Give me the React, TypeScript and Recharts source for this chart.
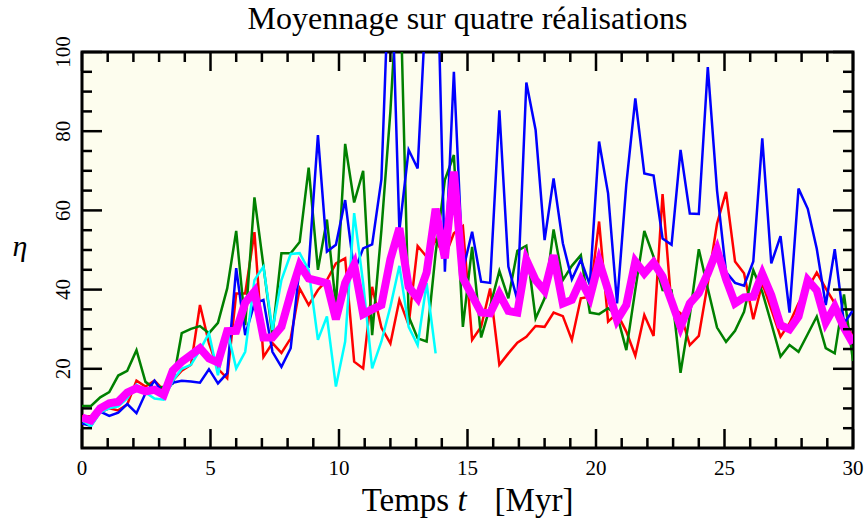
import React from "react";
import {
  LineChart,
  Line,
  XAxis,
  YAxis,
  CartesianGrid,
  ReferenceArea,
} from "recharts";

// time grid (Myr)
const times = [
  0, 0.35, 0.71, 1.06, 1.41, 1.76, 2.12, 2.47, 2.82, 3.18,
  3.53, 3.88, 4.24, 4.59, 4.94, 5.29, 5.65, 6, 6.35, 6.71,
  7.06, 7.41, 7.76, 8.12, 8.47, 8.82, 9.18, 9.53, 9.88, 10.24,
  10.59, 10.94, 11.29, 11.65, 12, 12.35, 12.71, 13.06, 13.41, 13.76,
  14.12, 14.47, 14.82, 15.18, 15.53, 15.88, 16.24, 16.59, 16.94, 17.29,
  17.65, 18, 18.35, 18.71, 19.06, 19.41, 19.76, 20.12, 20.47, 20.82,
  21.18, 21.53, 21.88, 22.24, 22.59, 22.94, 23.29, 23.65, 24, 24.35,
  24.71, 25.06, 25.41, 25.76, 26.12, 26.47, 26.82, 27.18, 27.53, 27.88,
  28.24, 28.59, 28.94, 29.29, 29.65, 30,
];

const red = [
  8, 8, 9, 10, 9.5, 11, 17, 15.5, 17, 14.6,
  17, 19.5, 21, 36.1, 26.5, 20, 17.6, 39, 39, 54.5,
  23, 26.5, 24, 27.7, 40.3, 36.1, 39.9, 42.4, 46.6, 47.9,
  21.8, 20.1, 40.7, 30.4, 26.4, 37.4, 31.1, 51, 48.3, 52.5,
  48.3, 54.2, 56, 27.3, 30.6, 40.3, 21, 23.9, 26.6, 28.1,
  30.8, 30.6, 34.2, 33.3, 27.3, 37.8, 38.2, 57.2, 31.9, 34,
  29.4, 23.3, 33.6, 28.3, 64.1, 35.7, 34, 26, 28.3, 41.6,
  56.7, 64.7, 47.1, 44.1, 32.5, 41.6, 35, 28.1, 31.5, 36.5,
  40.3, 44.3, 40.3, 36.5, 32.3, 28,
];

const green = [
  10.6, 10.6, 12.8, 14.1, 18.3, 19.5, 24.7, 16.7, 15.1, 15.5,
  16.3, 29, 30.1, 30.8, 29, 31.6, 40.3, 54.8, 31, 63.3,
  46, 28.5, 49.2, 49.2, 52, 70.8, 45, 57.7, 36, 76.8,
  62, 70, 28.5, 55, 85, 125, 33.2, 27.7, 26.9, 49.2,
  67.7, 74, 30.6, 50.8, 27.9, 35.7, 44.7, 37.8, 49.8, 51.1,
  32.7, 37.8, 55.2, 42.4, 46, 48.7, 34.2, 33.8, 35.3, 33.6,
  24.7, 40, 54.8, 48.3, 39.9, 39.8, 19, 33.5, 50.2, 40.3,
  30.4, 26.8, 29.6, 34.4, 44.9, 39.4, 31.5, 23.1, 26, 24.3,
  28.8, 33.2, 25.2, 23.9, 38.8, 22,
];

const blue = [
  6.2, 5.6, 9.2, 8.1, 8.9, 11.1, 8.8, 13.8, 17, 13.5,
  16.5, 17, 16.8, 16.5, 19.9, 16.3, 18.9, 45.4, 28.5, 36.5,
  37.4, 24.3, 20.5, 25.2, 45.8, 45.8, 79, 49.6, 51.3, 62.6,
  44.5, 50.4, 51.4, 67.8, 130, 55, 75.3, 70.6, 115, 140,
  44.5, 95, 44.8, 54.6, 42, 41.7, 85.3, 45.8, 37.4, 92.3,
  80.3, 52.5, 68.1, 51.7, 42.6, 47.5, 41.2, 77.4, 64.3, 36.5,
  66.6, 88.3, 69.3, 68.8, 52.9, 51.3, 75.3, 59.2, 59.1, 96.2,
  65, 44.4, 41.7, 41, 47.1, 78.2, 46.6, 53.5, 34.2, 65.5,
  60.4, 50.3, 36.1, 50.2, 31.5, 34.8,
];

// fourth run stops at ~13.8 Myr
const cyan = [
  7, 5.5, 9, 10, 10.5, 12.5, 16, 14, 12.5, 12.2,
  17, 20, 21, 24.7, 29, 18.4, 29.8, 20.1, 24.3, 42.4,
  45.8, 29.8, 42.4, 49, 49.2, 45, 27.3, 33.2, 15.5, 26.9,
  59.3, 41.6, 20.1, 26.9, 35.7, 46, 30.6, 26, 41.6, 23.9,
];

const mean = [
  7.7, 7, 10, 11.3, 11.7, 14, 15.1, 14.3, 14.7, 13.4,
  19.5, 21.8, 23.5, 25.2, 22.6, 21.6, 29.5, 29.6, 36.7, 39.5,
  27.9, 27.9, 30.6, 39, 46.2, 42.8, 42.2, 41.6, 32.5, 41.7,
  46.3, 33.8, 35, 36.1, 47.7, 55.5, 40.7, 37.8, 44.3, 60.4,
  47.9, 69.8, 42.9, 38.5, 34.2, 34, 38.9, 34.6, 34.2, 47.5,
  42.4, 39.7, 48.7, 36.5, 37.4, 42.4, 38, 47.1, 39.9, 32.3,
  36.1, 47.1, 44.1, 46.8, 43.3, 37, 30.6, 36.5, 39.1, 44.1,
  50, 42.6, 36.5, 38, 38.2, 44, 38.6, 31, 30, 33.2,
  42.4, 39.8, 31.7, 35.7, 30.4, 26.4,
];

const xTicks = [
  0, 1, 2, 3, 4, 5, 6, 7, 8, 9, 10, 11, 12, 13, 14, 15,
  16, 17, 18, 19, 20, 21, 22, 23, 24, 25, 26, 27, 28, 29, 30,
];
const yTicks = [5, 10, 15, 20, 25, 30, 35, 40, 45, 50, 55, 60, 65, 70, 75, 80, 85, 90, 95, 100];

const rows = times.map((t, k) => ({
  t,
  red: red[k],
  green: green[k],
  blue: blue[k],
  cyan: cyan[k],
  mean: mean[k],
}));

const W = 868;
const H = 520;
const LEFT = 82;
const RIGHT = 853;
const TOP = 52;
const BOTTOM = 448;
const FONT = "'Liberation Serif', 'DejaVu Serif', serif";

const XTick = (props: any) => {
  const { x, payload } = props;
  const v = payload.value;
  const major = v % 5 === 0;
  const len = major ? 19 : 10;
  return (
    <g>
      <line x1={x} y1={BOTTOM} x2={x} y2={BOTTOM - len} stroke="#000" strokeWidth={2.5} />
      <line x1={x} y1={TOP} x2={x} y2={TOP + len} stroke="#000" strokeWidth={2.5} />
      {major && (
        <text x={x} y={BOTTOM + 27} textAnchor="middle" fontSize={21} fontFamily={FONT} fill="#000">
          {v}
        </text>
      )}
    </g>
  );
};

const YTick = (props: any) => {
  const { y, payload } = props;
  const v = payload.value;
  const major = v % 20 === 0;
  const len = major ? 20 : 10;
  return (
    <g>
      <line x1={LEFT} y1={y} x2={LEFT + len} y2={y} stroke="#000" strokeWidth={2.5} />
      <line x1={RIGHT} y1={y} x2={RIGHT - len} y2={y} stroke="#000" strokeWidth={2.5} />
      {major && (
        <text
          x={70}
          y={y}
          textAnchor="middle"
          fontSize={21}
          fontFamily={FONT}
          fill="#000"
          transform={`rotate(-90 70 ${y})`}
        >
          {v}
        </text>
      )}
    </g>
  );
};

export default function App() {
  return (
    <div style={{ position: "absolute", left: 0, top: 0, width: W, height: H, background: "#fff" }}>
      <LineChart
        width={W}
        height={H}
        data={rows}
        margin={{ top: TOP, left: LEFT - 1, right: W - RIGHT, bottom: H - BOTTOM - 1 }}
      >
        <CartesianGrid horizontal={false} vertical={false} fill="#fdfdee" />
        <XAxis
          type="number"
          dataKey="t"
          domain={[0, 30]}
          allowDataOverflow
          ticks={xTicks}
          interval={0}
          height={1}
          tickSize={0}
          tickLine={false}
          axisLine={false}
          tick={XTick}
        />
        <YAxis
          type="number"
          domain={[0, 100]}
          allowDataOverflow
          ticks={yTicks}
          interval={0}
          width={1}
          tickSize={0}
          tickLine={false}
          axisLine={false}
          tick={YTick}
        />
        <Line type="linear" dataKey="red" stroke="#ff0000" strokeWidth={2.5} dot={false} activeDot={false} isAnimationActive={false} />
        <Line type="linear" dataKey="green" stroke="#008000" strokeWidth={2.5} dot={false} activeDot={false} isAnimationActive={false} />
        <Line type="linear" dataKey="blue" stroke="#0000ff" strokeWidth={2.5} dot={false} activeDot={false} isAnimationActive={false} />
        <Line type="linear" dataKey="cyan" stroke="#00ffff" strokeWidth={2.5} dot={false} activeDot={false} isAnimationActive={false} />
        <Line type="linear" dataKey="mean" stroke="#ff00ff" strokeWidth={8} dot={false} activeDot={false} isAnimationActive={false} />
        <ReferenceArea x1={0} x2={30} y1={0} y2={100} fill="none" stroke="#000" strokeWidth={3} />
      </LineChart>
      <svg
        width={W}
        height={H}
        style={{ position: "absolute", left: 0, top: 0, pointerEvents: "none" }}
      >
        <text x={(LEFT + RIGHT) / 2} y={29} textAnchor="middle" fontSize={32} fontFamily={FONT} fill="#000">
          Moyennage sur quatre réalisations
        </text>
        <text x={(LEFT + RIGHT) / 2} y={511} textAnchor="middle" fontSize={33} fontFamily={FONT} fill="#000">
          Temps <tspan fontStyle="italic">t</tspan>
          <tspan dx={28}>[Myr]</tspan>
        </text>
        <text x={20} y={256} textAnchor="middle" fontSize={30} fontStyle="italic" fontFamily={FONT} fill="#000">
          η
        </text>
      </svg>
    </div>
  );
}
